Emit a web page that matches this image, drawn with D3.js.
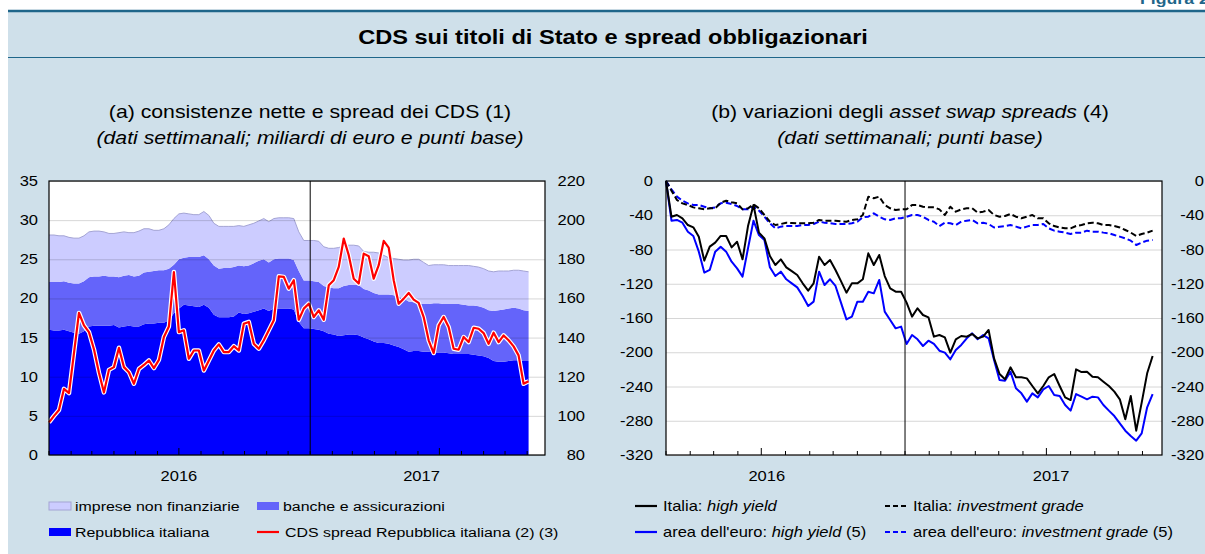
<!doctype html>
<html>
<head>
<meta charset="UTF-8">
<title>CDS sui titoli di Stato e spread obbligazionari</title>
<script src="https://cdn.jsdelivr.net/npm/d3@7"></script>
<style>
body { margin: 0; background: #fff; }
svg { display: block; font-family: "Liberation Sans", Arial, sans-serif; }
text { white-space: pre; }
</style>
</head>
<body>
<script>
// (a) weekly data, first week of 2016 onwards (miliardi di euro; CDS in punti base)
var startA = "2016-01-01";
var repubblica = [
  16.0,15.9,15.9,16.0,15.8,15.6,15.5,15.8,16.4,16.5,
  16.5,16.5,16.5,16.6,16.3,16.4,16.5,16.4,16.4,16.7,
  16.8,16.8,16.9,16.9,17.2,18.1,18.7,19.2,19.1,19.0,
  18.9,19.2,18.8,17.9,17.6,17.6,17.6,17.7,18.2,18.0,
  18.1,18.3,18.5,18.7,18.4,18.7,18.7,18.7,18.7,18.6,
  17.0,16.2,16.2,16.1,16.0,15.8,15.5,15.4,15.2,15.3,
  15.4,15.4,15.3,15.0,14.8,14.5,14.3,14.3,14.2,14.0,
  13.8,13.5,13.2,13.3,13.3,13.2,13.2,13.1,13.1,13.1,
  13.0,12.9,12.9,12.9,12.9,12.8,12.7,12.6,12.4,12.0,
  11.9,11.9,12.0,12.1,12.1,12.0,12.0];
var banche = [
  6.1,6.2,6.2,6.2,6.2,6.3,6.4,6.4,6.3,6.3,
  6.3,6.4,6.3,6.2,6.4,6.5,6.5,6.4,6.5,6.6,
  6.6,6.7,6.7,6.7,6.6,6.2,6.3,6.0,6.2,6.3,
  6.4,6.3,6.2,6.3,6.2,6.3,6.3,6.3,6.0,6.1,
  6.1,6.2,6.3,6.3,6.2,6.3,6.4,6.4,6.4,6.3,
  6.5,6.1,6.1,6.1,6.1,5.8,5.9,5.9,6.1,6.3,
  6.3,6.3,6.4,6.2,6.2,6.2,6.2,6.2,6.3,6.4,
  6.4,6.5,6.4,6.2,6.0,6.1,6.1,6.3,6.3,6.2,
  6.3,6.4,6.4,6.3,6.2,6.3,6.3,6.2,6.1,6.4,
  6.6,6.7,6.7,6.7,6.6,6.5,6.4];
var imprese = [
  6.0,6.0,5.9,5.8,5.8,5.8,5.8,5.8,5.8,5.8,
  5.8,5.6,5.5,5.5,5.7,5.6,5.4,5.6,5.7,5.6,
  5.5,5.2,5.1,5.3,5.6,5.9,5.8,5.7,5.5,5.4,
  5.4,5.6,5.6,5.4,5.4,5.3,5.3,5.2,5.1,5.1,
  5.2,5.1,5.1,5.2,5.2,5.2,5.2,5.2,5.2,5.3,
  5.0,5.1,5.1,5.2,5.2,5.0,5.0,5.1,5.2,5.1,
  5.1,5.1,5.0,4.8,4.9,5.2,5.3,5.0,4.7,4.7,
  4.8,4.9,5.3,5.5,5.7,5.3,4.9,4.9,4.9,5.0,
  4.9,4.9,4.9,5.0,5.1,5.0,5.0,5.0,5.0,5.0,
  5.0,4.9,4.8,4.8,4.9,5.0,5.0];
var cdsSpread = [
  96.7,100,103,113.8,111.6,132,152.6,146.2,142.8,134,
  122,112,123.5,124.9,134.8,124.9,122.3,116.4,124,126,
  128.3,124.4,128.6,140.3,145.7,173.5,142.8,143.7,129.2,133.4,
  133.4,123.2,128.3,133.4,136.5,132.6,132.6,135.6,133.4,147.1,
  148,136.8,134.3,138.6,143.7,148.8,171.3,171,165,169.3,
  149.1,154.8,157.3,150.5,153.9,149.1,166.7,169.3,176.1,190.6,
  182.1,170.1,167.6,182.9,181.6,170.1,177,189.4,186,169.3,
  157.3,159.9,162.8,159.4,157.7,150.5,138.6,132.1,146.2,150.5,
  145.4,134.3,133.8,140.3,137.7,145.0,144.5,142.3,136.8,142.5,
  137.7,141.1,138.6,135.5,130.9,116.4,117.7];
var ticksLeftA = [0, 5, 10, 15, 20, 25, 30, 35];
var ticksRightA = [80, 100, 120, 140, 160, 180, 200, 220];
var yearsA = [["2016", "2016-07-01"], ["2017", "2017-06-06"]];

// (b) weekly changes in asset swap spreads (punti base)
var startB = "2016-03-01";
var italiaHY = [
  0,-41.7,-39.7,-43.6,-51.4,-54.1,-65,-93,-76.7,-72,
  -64.2,-64.2,-77.5,-70.9,-91.5,-52.6,-28,-60.3,-67,-87.6,
  -98.1,-91.5,-100.8,-105.3,-109.8,-119.5,-128.1,-119.5,-88.4,-98.1,
  -92.3,-103.9,-117,-130.4,-119.5,-119.5,-114.8,-84.5,-98.1,-86.4,
  -111,-125.4,-129.3,-129.3,
  -142.1,-158.4,-148.7,-156.5,-159.2,-181.8,-179.9,-182.6,-200.5,-184.9,
  -181,-181.8,-178.7,-183.8,-181.8,-174,-207.1,-225.4,-231.6,-217.6,
  -229.3,-229.3,-230.5,-239.4,-248,-239.4,-229.3,-225.4,-239.4,-252.7,
  -255.8,-220,-223.1,-222.7,-228.5,-229.3,-234.4,-239.4,-246,-255,
  -278.3,-251.1,-291.6,-258.9,-224.6,-204.4];
var euroHY = [
  0,-46.3,-45.5,-48.7,-59.2,-64.2,-82.5,-107,-103.9,-82.5,
  -76.7,-82.5,-94.2,-102,-111.7,-78.6,-46.3,-63.1,-68.9,-100.8,
  -111,-105.9,-114.8,-119.5,-124.2,-134.3,-146,-140.9,-105.9,-121.5,
  -114.8,-122.6,-142,-161.6,-158.4,-140.9,-140.9,-129.3,-131.2,-115.6,
  -152.6,-162.3,-172.1,-170.1,
  -190.3,-179.9,-184.9,-192.7,-186.5,-190.3,-198.2,-200.5,-208.3,-197.4,
  -191.5,-183.8,-177.9,-184.9,-179.9,-183.8,-209.1,-232.4,-233.2,-222.7,
  -242.1,-248,-257.7,-248,-252.7,-243.3,-239.4,-249.9,-251.1,-261.6,
  -268.2,-248.8,-251.9,-255,-251.9,-252.7,-261.6,-268.2,-274.5,-283,
  -291.6,-297.8,-303.3,-294.7,-264.3,-248.8];
var italiaIG = [
  0,-11.3,-22.2,-26.1,-28,-30.8,-31.9,-33.1,-31.9,-31.9,
  -25.3,-23,-24.9,-26.1,-33.1,-31.9,-27.3,-31.9,-39.7,-47.5,
  -51.4,-50.2,-48.7,-49,-49.4,-49.4,-49.4,-48.7,-45.5,-46.3,
  -46.3,-46.3,-47,-47.5,-45.5,-44.8,-39.7,-18.3,-20.2,-18.3,
  -28,-31.9,-33.9,-33.1,
  -33.1,-28,-28,-30,-30.8,-30.8,-33.1,-39.7,-30,-35.8,
  -33.1,-31.9,-31.9,-37,-35.8,-33.9,-39.7,-41.7,-40.9,-38.5,
  -41.7,-43.6,-41.7,-39.7,-43.6,-43.6,-49.4,-52.6,-54.3,-55.3,
  -55.3,-52.6,-51.4,-49.4,-48.7,-49.4,-51.4,-51.4,-52.6,-54.3,
  -57.2,-60.3,-64.2,-61.9,-60.3,-58];
var euroIG = [
  0,-9.7,-18.3,-23,-26.1,-28,-28,-30,-31.9,-30.8,
  -26.1,-25.3,-26.9,-29.2,-33.1,-33.1,-30,-34.6,-41.7,-49.4,
  -55.3,-53.3,-52.6,-52.6,-52.6,-51.4,-51.4,-50.2,-47.5,-48.7,
  -49.4,-50.2,-50.2,-50.2,-49.4,-47.5,-42.4,-41.7,-37.8,-41.7,
  -44.8,-45.5,-43.6,-43.6,
  -41.7,-39.7,-39.7,-41.7,-45.5,-47.5,-52.6,-48.7,-49.4,-51.4,
  -47.5,-46.3,-45.5,-49.4,-48.7,-50.2,-54.3,-53.3,-52.6,-51.4,
  -53.3,-55.3,-53.3,-51.4,-51.4,-50.2,-55.3,-58,-59.2,-60.3,
  -61.9,-60.3,-60.3,-58,-59.2,-59.2,-60.3,-61.1,-63.1,-65,
  -67,-69.7,-74.7,-72,-69.7,-68.9];
var ticksB = [0, -40, -80, -120, -160, -200, -240, -280, -320];
var yearsB = [["2016", "2016-07-08"], ["2017", "2017-07-07"]];

var W = 1205, H = 554;
var SX = 1.18; // the original lettering is a bit wide
var parse = d3.timeParse("%Y-%m-%d");
var plotTop = 181, plotBottom = 455;

var svg = d3.select("body").append("svg").attr("width", W).attr("height", H);

// background and header
svg.append("rect").attr("x", 8).attr("y", 11).attr("width", W).attr("height", H)
  .attr("fill", "#cfe0ea");
svg.append("line").attr("x1", 8).attr("x2", W).attr("y1", 11).attr("y2", 11)
  .attr("stroke", "#1f668a").attr("stroke-width", 2.5);
svg.append("line").attr("x1", 8).attr("x2", W).attr("y1", 57.5).attr("y2", 57.5)
  .attr("stroke", "#1f668a").attr("stroke-width", 1.2);

function addText(g, x, y, size, anchor) {
  return g.append("text")
    .attr("transform", "translate(" + x + "," + y + ") scale(" + SX + ",1)")
    .attr("font-size", size)
    .attr("text-anchor", anchor || "start")
    .attr("fill", "#000");
}
function rich(t, parts) {
  parts.forEach(function(p) {
    t.append("tspan").attr("font-style", p[1] ? "italic" : null).text(p[0]);
  });
  return t;
}

addText(svg, 1140, 4, 15).attr("font-weight", "bold").attr("fill", "#1f668a").text("Figura 2.6");
addText(svg, 613, 44, 20, "middle").attr("font-weight", "bold")
  .text("CDS sui titoli di Stato e spread obbligazionari");

// shared frame pieces for both panels
function drawFrame(g, x, y, ticksL, ticksR, yR, labL, labR, years) {
  var left = x.range()[0], right = x.range()[1];
  // month ticks, longer at mid-year
  g.selectAll(".mtick").data(d3.timeMonth.range(x.domain()[0], x.domain()[1]))
    .enter().append("line")
    .attr("x1", function(d) { return x(d); }).attr("x2", function(d) { return x(d); })
    .attr("y1", plotBottom).attr("y2", function(d) { return plotBottom - (d.getMonth() === 6 ? 7 : 4); })
    .attr("stroke", "#000").attr("stroke-width", 1);
  // year separator
  var jan = parse("2017-01-01");
  g.append("line").attr("x1", x(jan)).attr("x2", x(jan)).attr("y1", plotTop).attr("y2", plotBottom)
    .attr("stroke", "#000").attr("stroke-width", 1);
  g.append("rect").attr("x", left).attr("y", plotTop).attr("width", right - left).attr("height", plotBottom - plotTop)
    .attr("fill", "none").attr("stroke", "#000").attr("stroke-width", 1.2);

  var gl = g.append("g");
  ticksL.forEach(function(v) {
    addText(gl, labL, y(v) + 5, 14, "end").text(v);
  });
  ticksR.forEach(function(v) {
    addText(gl, labR, yR(v) + 5, 14, "end").text(v);
  });
  years.forEach(function(yy) {
    addText(gl, x(parse(yy[1])), 481, 14, "middle").text(yy[0]);
  });
}

// ---------- panel (a) ----------
var xA = d3.scaleTime().domain([parse("2016-01-01"), parse("2017-11-26")]).range([49, 545]);
var yA = d3.scaleLinear().domain([0, 35]).range([plotBottom, plotTop]);
var yA2 = d3.scaleLinear().domain([80, 220]).range([plotBottom, plotTop]);

var t0A = parse(startA);
var rowsA = repubblica.map(function(v, i) {
  return { date: d3.timeWeek.offset(t0A, i), rep: v, banche: banche[i], imprese: imprese[i], cds: cdsSpread[i] };
});
var keysA = ["rep", "banche", "imprese"];
var colorsA = { rep: "#0000ff", banche: "#6464fa", imprese: "#ccccff" };
var stacked = d3.stack().keys(keysA)(rowsA);

var gA = svg.append("g");
gA.append("rect").attr("x", 49).attr("y", plotTop).attr("width", 496).attr("height", plotBottom - plotTop).attr("fill", "#fff");

var area = d3.area()
  .x(function(d) { return xA(d.data.date); })
  .y0(function(d) { return yA(d[0]); })
  .y1(function(d) { return yA(d[1]); });
gA.selectAll(".layer").data(stacked).enter().append("path")
  .attr("d", area)
  .attr("fill", function(d) { return colorsA[d.key]; });
gA.append("path").datum(stacked[2])
  .attr("d", d3.line().x(function(d) { return xA(d.data.date); }).y(function(d) { return yA(d[1]); }))
  .attr("fill", "none").attr("stroke", "#a4a4d4").attr("stroke-width", 1);

gA.append("g").attr("transform", "translate(49,0)")
  .call(d3.axisLeft(yA).tickValues(ticksLeftA).tickSize(-496).tickFormat(""))
  .call(function(g) { g.select(".domain").remove(); })
  .selectAll("line").attr("stroke", "rgba(0,0,0,0.16)");

var cdsLine = d3.line()
  .x(function(d) { return xA(d.date); })
  .y(function(d) { return yA2(d.cds); });
gA.append("path").datum(rowsA).attr("d", cdsLine)
  .attr("fill", "none").attr("stroke", "#fff").attr("stroke-width", 4.5).attr("stroke-linejoin", "round");
gA.append("path").datum(rowsA).attr("d", cdsLine)
  .attr("fill", "none").attr("stroke", "#ff0000").attr("stroke-width", 2.2).attr("stroke-linejoin", "round");

drawFrame(gA, xA, yA, ticksLeftA, ticksRightA, yA2, 38, 585, yearsA);

addText(svg, 310, 118, 18, "middle").text("(a) consistenze nette e spread dei CDS (1)");
addText(svg, 310, 144, 18, "middle").attr("font-style", "italic")
  .text("(dati settimanali; miliardi di euro e punti base)");

// ---------- panel (b) ----------
var xB = d3.scaleTime().domain([parse("2016-03-01"), parse("2017-11-26")]).range([666, 1162]);
var yB = d3.scaleLinear().domain([-320, 0]).range([plotBottom, plotTop]);
var t0B = parse(startB);
var rowsB = italiaHY.map(function(v, i) {
  return { date: d3.timeWeek.offset(t0B, i), itHY: v, euHY: euroHY[i], itIG: italiaIG[i], euIG: euroIG[i] };
});

var gB = svg.append("g");
gB.append("rect").attr("x", 666).attr("y", plotTop).attr("width", 496).attr("height", plotBottom - plotTop).attr("fill", "#fff");
gB.append("g").attr("transform", "translate(666,0)")
  .call(d3.axisLeft(yB).tickValues(ticksB).tickSize(-496).tickFormat(""))
  .call(function(g) { g.select(".domain").remove(); })
  .selectAll("line").attr("stroke", "#d6d6d6");

var seriesB = [
  { key: "euIG", color: "#0000ff", dash: "6,3" },
  { key: "itIG", color: "#000", dash: "6,3" },
  { key: "euHY", color: "#0000ff", dash: null },
  { key: "itHY", color: "#000", dash: null }
];
seriesB.forEach(function(s) {
  gB.append("path").datum(rowsB)
    .attr("d", d3.line().x(function(d) { return xB(d.date); }).y(function(d) { return yB(d[s.key]); }))
    .attr("fill", "none").attr("stroke", s.color).attr("stroke-width", 2)
    .attr("stroke-dasharray", s.dash).attr("stroke-linejoin", "round");
});

drawFrame(gB, xB, yB, ticksB, ticksB, yB, 653, 1204, yearsB);

rich(addText(svg, 910, 118, 18, "middle"),
  [["(b) variazioni degli ", false], ["asset swap spreads", true], [" (4)", false]]);
addText(svg, 910, 144, 18, "middle").attr("font-style", "italic").text("(dati settimanali; punti base)");

// ---------- legends ----------
var leg = svg.append("g");
var rowY = [506, 532];
[["imprese non finanziarie", "imprese", 49, 0], ["banche e assicurazioni", "banche", 257, 0],
 ["Repubblica italiana", "rep", 49, 1]].forEach(function(l) {
  leg.append("rect").attr("x", l[2]).attr("y", rowY[l[3]] - 4).attr("width", 22).attr("height", 8)
    .attr("fill", colorsA[l[1]]).attr("stroke", l[1] === "imprese" ? "#a4a4d4" : "none");
  addText(leg, l[2] + 26, rowY[l[3]] + 5, 13.5).text(l[0]);
});
leg.append("line").attr("x1", 257).attr("x2", 279).attr("y1", rowY[1]).attr("y2", rowY[1])
  .attr("stroke", "#ff0000").attr("stroke-width", 2.2);
addText(leg, 285, rowY[1] + 5, 13.5).text("CDS spread Repubblica italiana (2) (3)");

var legB = [
  { x: 635, row: 0, color: "#000", dash: null, parts: [["Italia: ", false], ["high yield", true]] },
  { x: 885, row: 0, color: "#000", dash: "5,3", parts: [["Italia: ", false], ["investment grade", true]] },
  { x: 635, row: 1, color: "#0000ff", dash: null, parts: [["area dell'euro: ", false], ["high yield", true], [" (5)", false]] },
  { x: 885, row: 1, color: "#0000ff", dash: "5,3", parts: [["area dell'euro: ", false], ["investment grade", true], [" (5)", false]] }
];
legB.forEach(function(l) {
  leg.append("line").attr("x1", l.x).attr("x2", l.x + 22).attr("y1", rowY[l.row]).attr("y2", rowY[l.row])
    .attr("stroke", l.color).attr("stroke-width", 2.2).attr("stroke-dasharray", l.dash);
  rich(addText(leg, l.x + 28, rowY[l.row] + 5, 14), l.parts);
});
</script>
</body>
</html>
